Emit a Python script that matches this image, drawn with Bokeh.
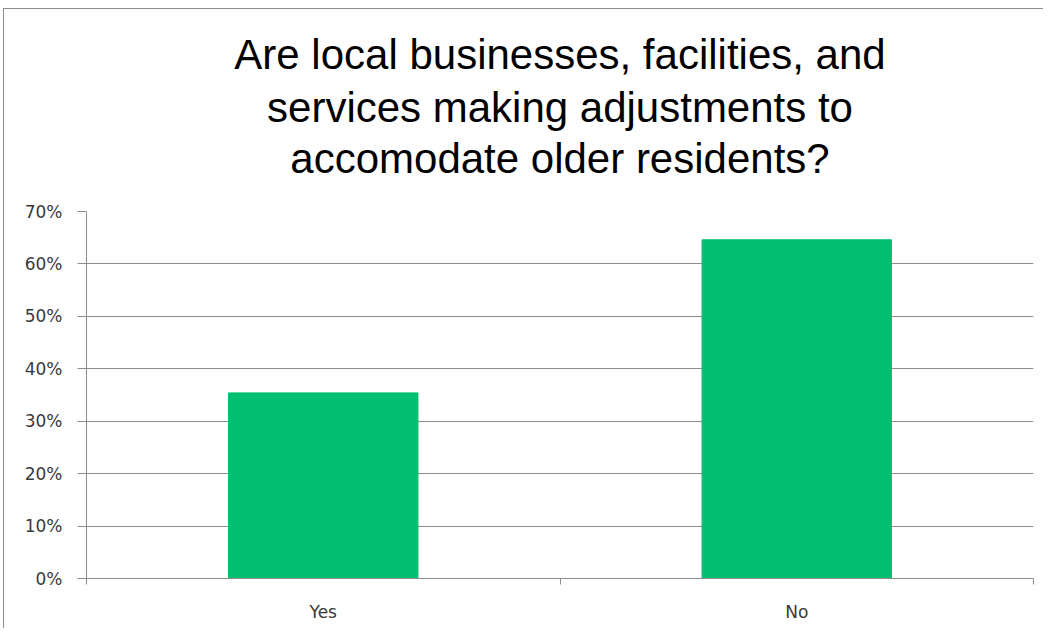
from bokeh.plotting import figure
from bokeh.models import Range1d, FixedTicker, PrintfTickFormatter, Title
from bokeh.embed import file_html
from bokeh.resources import INLINE

title_lines = ["Are local businesses, facilities, and",
               "services making adjustments to",
               "accomodate older residents?"]
categories = ["Yes", "No"]
values = [35.4, 64.6]
y_ticks = [0, 10, 20, 30, 40, 50, 60, 70]

x_pos = [i + 0.5 for i in range(len(categories))]

p = figure(width=1040, height=620, output_backend="svg", toolbar_location=None,
           x_range=Range1d(0, len(categories)), y_range=Range1d(0, 70),
           min_border_left=82, min_border_right=11, min_border_top=202, min_border_bottom=51,
           styles={"margin-left": "3px", "margin-top": "8px",
                   "border-left": "1px solid #8c8c8c", "border-top": "1px solid #8c8c8c"})
p.title.text = ""

# first added sits closest to the frame: a spacer, then the lines bottom-up
p.add_layout(Title(text=" ", text_font_size="25px", standoff=0), "above")
for i, line in enumerate(reversed(title_lines)):
    t = Title(text=line, align="center", text_font="Liberation Sans", text_font_size="42px",
              text_font_style="normal", text_color="#000000",
              standoff=(0 if i == 0 else 4))
    p.add_layout(t, "above")

p.vbar(x=x_pos, top=values, width=0.4, bottom=0, fill_color="#00BF6F", line_color="#00BF6F")

p.outline_line_color = None
p.xgrid.grid_line_color = None
p.ygrid.grid_line_color = "#8c8c8c"
p.ygrid.ticker = FixedTicker(ticks=y_ticks)

ya = p.yaxis[0]
ya.ticker = FixedTicker(ticks=y_ticks)
ya.formatter = PrintfTickFormatter(format="%d%%")
ya.axis_line_color = "#8c8c8c"
ya.major_tick_line_color = "#8c8c8c"
ya.major_tick_out = 9
ya.major_tick_in = 0
ya.minor_tick_line_color = None
ya.major_label_text_font = "DejaVu Sans"
ya.major_label_text_font_size = "17px"
ya.major_label_text_color = "#3a3a3a"
ya.major_label_standoff = 15

xa = p.xaxis[0]
xa.ticker = FixedTicker(ticks=x_pos, minor_ticks=list(range(len(categories) + 1)))
xa.major_label_overrides = {x: c for x, c in zip(x_pos, categories)}
xa.axis_line_color = "#8c8c8c"
xa.major_tick_line_color = None
xa.major_tick_out = 0
xa.major_tick_in = 0
xa.minor_tick_line_color = "#8c8c8c"
xa.minor_tick_out = 6
xa.minor_tick_in = 0
xa.major_label_text_font = "DejaVu Sans"
xa.major_label_text_font_size = "17px"
xa.major_label_text_color = "#3a3a3a"
xa.major_label_standoff = 17

open("out.html", "w").write(file_html(p, INLINE))
